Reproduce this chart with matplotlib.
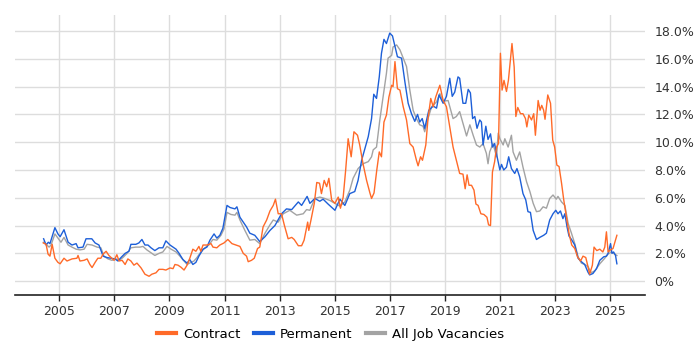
from matplotlib import pyplot as plt
from matplotlib.lines import Line2D

# Contract (decimal year, % of vacancies)
contract_x = [2004.42, 2004.52, 2004.59, 2004.66, 2004.74, 2004.84, 2004.95, 2005.03, 2005.17, 2005.28,
              2005.46, 2005.64, 2005.68, 2005.75, 2005.90, 2006.01, 2006.11, 2006.19, 2006.30, 2006.40,
              2006.51, 2006.59, 2006.70, 2006.80, 2006.91, 2006.99, 2007.09, 2007.17, 2007.28, 2007.39,
              2007.49, 2007.60, 2007.71, 2007.82, 2007.97, 2008.11, 2008.26, 2008.36, 2008.51, 2008.62,
              2008.76, 2008.87, 2009.02, 2009.13, 2009.20, 2009.31, 2009.42, 2009.53, 2009.64, 2009.74,
              2009.85, 2009.96, 2010.07, 2010.14, 2010.22, 2010.36, 2010.51, 2010.58, 2010.72, 2010.83,
              2010.98, 2011.12, 2011.27, 2011.41, 2011.56, 2011.68, 2011.80, 2011.86, 2011.98, 2012.08,
              2012.20, 2012.28, 2012.40, 2012.53, 2012.65, 2012.77, 2012.85, 2012.95, 2013.07, 2013.17,
              2013.31, 2013.44, 2013.53, 2013.68, 2013.80, 2013.89, 2014.02, 2014.06, 2014.14, 2014.26,
              2014.35, 2014.45, 2014.52, 2014.62, 2014.71, 2014.79, 2014.89, 2015.01, 2015.13, 2015.21,
              2015.31, 2015.40, 2015.49, 2015.60, 2015.70, 2015.83, 2015.91, 2016.03, 2016.16, 2016.28,
              2016.34, 2016.43, 2016.53, 2016.62, 2016.70, 2016.79, 2016.88, 2016.97, 2017.07, 2017.12,
              2017.19, 2017.28, 2017.37, 2017.49, 2017.61, 2017.73, 2017.85, 2017.97, 2018.03, 2018.12,
              2018.19, 2018.31, 2018.39, 2018.49, 2018.58, 2018.67, 2018.82, 2018.94, 2019.06, 2019.18,
              2019.30, 2019.42, 2019.54, 2019.66, 2019.74, 2019.81, 2019.88, 2019.97, 2020.06, 2020.13,
              2020.21, 2020.31, 2020.42, 2020.53, 2020.59, 2020.66, 2020.73, 2020.81, 2020.88, 2020.95,
              2021.02, 2021.08, 2021.15, 2021.24, 2021.31, 2021.44, 2021.52, 2021.58, 2021.65, 2021.75,
              2021.84, 2021.93, 2021.98, 2022.05, 2022.15, 2022.23, 2022.29, 2022.39, 2022.46, 2022.52,
              2022.59, 2022.64, 2022.74, 2022.84, 2022.92, 2022.99, 2023.07, 2023.15, 2023.24, 2023.32,
              2023.42, 2023.51, 2023.61, 2023.72, 2023.82, 2023.93, 2024.02, 2024.12, 2024.20, 2024.26,
              2024.36, 2024.42, 2024.52, 2024.63, 2024.74, 2024.81, 2024.87, 2024.93, 2025.02, 2025.11,
              2025.20, 2025.25]
contract_y = [2.75, 2.65, 1.95, 1.8, 2.65, 1.65, 1.35, 1.25, 1.65, 1.45,
              1.6, 1.65, 1.85, 1.45, 1.5, 1.6, 1.2, 0.98, 1.35, 1.65,
              1.65, 1.95, 2.15, 1.85, 1.65, 1.5, 1.9, 1.45, 1.5, 1.2,
              1.6, 1.45, 1.15, 1.3, 0.95, 0.5, 0.35, 0.5, 0.6, 0.85,
              0.85, 0.8, 0.95, 0.9, 1.2, 1.15, 1.0, 0.8, 1.15, 1.65,
              2.3, 2.15, 2.5, 2.15, 2.6, 2.6, 2.7, 2.45, 2.4, 2.6,
              2.75, 3.0, 2.7, 2.6, 2.5, 2.0, 1.8, 1.4, 1.5, 1.65,
              2.35, 2.45, 3.9, 4.4, 5.05, 5.45, 5.9, 4.85, 4.85, 4.05,
              3.05, 3.15, 3.0, 2.55, 2.55, 2.95, 4.25, 3.65, 4.4, 5.6,
              7.1, 7.05, 6.3, 7.25, 6.8, 7.4, 5.85, 5.6, 6.05, 5.25,
              6.05, 8.0, 10.25, 8.95, 10.75, 10.5, 9.8, 8.45, 7.25, 6.35,
              5.95, 6.35, 8.0, 9.3, 8.95, 11.45, 11.95, 13.25, 14.1, 14.0,
              15.8, 13.85, 13.75, 12.55, 11.6, 9.9, 9.65, 8.7, 8.3, 8.95,
              8.7, 9.8, 11.7, 13.15, 12.55, 13.25, 14.1, 13.0, 12.55, 11.1,
              9.65, 8.7, 7.75, 7.7, 6.65, 7.65, 6.9, 6.9, 6.55, 5.55,
              5.45, 4.85, 4.8, 4.6, 4.05, 4.0, 7.85, 8.6, 9.65, 9.9,
              16.4, 13.75, 14.45, 13.65, 14.45, 17.1, 15.4, 11.85, 12.5, 12.05,
              12.05, 11.7, 11.1, 11.95, 11.6, 12.05, 10.5, 13.0, 12.3, 12.65,
              12.3, 11.65, 13.4, 12.8, 10.15, 9.65, 8.35, 8.25, 7.05, 5.85,
              4.6, 3.45, 2.6, 2.35, 1.75, 1.45, 1.8, 1.7, 1.05, 0.5,
              1.15, 2.45, 2.2, 2.3, 2.1, 2.45, 3.55, 2.1, 2.25, 2.35,
              2.95, 3.3]

# Permanent
perm_x = [2004.43, 2004.52, 2004.60, 2004.66, 2004.84, 2004.95, 2005.03, 2005.17, 2005.32, 2005.46,
          2005.61, 2005.68, 2005.86, 2005.97, 2006.18, 2006.30, 2006.44, 2006.59, 2006.73, 2006.88,
          2007.02, 2007.13, 2007.24, 2007.39, 2007.53, 2007.60, 2007.78, 2007.89, 2008.00, 2008.11,
          2008.22, 2008.33, 2008.47, 2008.62, 2008.76, 2008.87, 2009.02, 2009.24, 2009.35, 2009.49,
          2009.64, 2009.74, 2009.85, 2009.96, 2010.07, 2010.22, 2010.36, 2010.47, 2010.62, 2010.72,
          2010.83, 2010.94, 2011.09, 2011.20, 2011.38, 2011.45, 2011.56, 2011.80, 2011.92, 2012.10,
          2012.28, 2012.47, 2012.65, 2012.83, 2013.07, 2013.25, 2013.44, 2013.68, 2013.80, 2014.00,
          2014.10, 2014.28, 2014.46, 2014.58, 2014.76, 2015.01, 2015.19, 2015.37, 2015.55, 2015.73,
          2015.85, 2015.98, 2016.10, 2016.22, 2016.34, 2016.42, 2016.52, 2016.62, 2016.70, 2016.79,
          2016.88, 2017.00, 2017.10, 2017.19, 2017.28, 2017.43, 2017.55, 2017.67, 2017.79, 2017.91,
          2018.01, 2018.09, 2018.18, 2018.27, 2018.42, 2018.58, 2018.70, 2018.79, 2018.94, 2019.06,
          2019.18, 2019.27, 2019.36, 2019.48, 2019.54, 2019.66, 2019.76, 2019.85, 2019.93, 2020.01,
          2020.09, 2020.17, 2020.27, 2020.33, 2020.39, 2020.49, 2020.57, 2020.66, 2020.73, 2020.81,
          2020.90, 2021.00, 2021.06, 2021.14, 2021.24, 2021.32, 2021.42, 2021.54, 2021.62, 2021.72,
          2021.84, 2021.94, 2022.02, 2022.11, 2022.21, 2022.33, 2022.45, 2022.59, 2022.69, 2022.81,
          2022.93, 2023.03, 2023.11, 2023.20, 2023.29, 2023.36, 2023.44, 2023.51, 2023.60, 2023.72,
          2023.84, 2023.96, 2024.08, 2024.20, 2024.26, 2024.38, 2024.51, 2024.63, 2024.77, 2024.87,
          2024.93, 2025.02, 2025.07, 2025.13, 2025.20, 2025.25]
perm_y = [3.05, 2.6, 2.8, 2.7, 3.85, 3.4, 3.2, 3.7, 2.8, 2.6,
          2.7, 2.4, 2.45, 3.05, 3.05, 2.75, 2.6, 1.8, 1.7, 1.65,
          1.6, 1.45, 1.7, 2.0, 2.15, 2.65, 2.65, 2.75, 3.0, 2.6,
          2.6, 2.4, 2.2, 2.4, 2.4, 2.9, 2.6, 2.3, 2.0, 1.55,
          1.3, 1.55, 1.2, 1.35, 1.8, 2.3, 2.45, 2.95, 3.4, 3.1,
          3.3, 3.8, 5.45, 5.3, 5.2, 5.35, 4.6, 3.9, 3.45, 3.3,
          2.85, 3.2, 3.65, 4.0, 4.85, 5.2, 5.15, 5.7, 5.45, 6.1,
          5.6, 5.95, 5.75, 5.9, 5.55, 5.1, 5.9, 5.45, 6.3, 6.45,
          7.25, 8.7, 9.55, 10.4, 11.7, 13.45, 13.15, 14.7, 16.4, 17.4,
          17.1, 17.85, 17.65, 16.9, 16.15, 16.05, 14.35, 12.8, 12.05, 11.5,
          12.0, 11.45, 11.7, 11.0, 12.3, 12.6, 12.45, 13.4, 12.8, 13.3,
          14.6, 13.3, 13.6, 14.7, 14.6, 12.8, 12.8, 13.8, 13.55, 11.7,
          11.85, 11.0, 11.6, 11.45, 9.8, 11.15, 10.2, 10.6, 9.65, 9.9,
          8.95, 8.0, 8.4, 8.0, 8.2, 8.95, 8.1, 7.75, 8.1, 7.5,
          6.3, 5.85, 5.0, 4.95, 3.65, 3.0, 3.15, 3.3, 3.45, 4.4,
          4.85, 5.1, 4.85, 5.05, 4.5, 4.85, 3.9, 3.25, 3.0, 2.6,
          1.65, 1.4, 1.2, 0.65, 0.45, 0.55, 0.9, 1.5, 1.75, 1.8,
          2.0, 2.7, 2.0, 2.1, 1.85, 1.25]

# All job vacancies
all_x = [2004.42, 2004.52, 2004.63, 2004.70, 2004.84, 2004.95, 2005.06, 2005.17, 2005.32, 2005.46,
         2005.61, 2005.75, 2005.90, 2006.01, 2006.19, 2006.37, 2006.51, 2006.62, 2006.77, 2006.91,
         2007.06, 2007.17, 2007.31, 2007.46, 2007.60, 2007.78, 2007.93, 2008.04, 2008.18, 2008.36,
         2008.47, 2008.62, 2008.76, 2008.91, 2009.06, 2009.24, 2009.38, 2009.53, 2009.64, 2009.78,
         2009.89, 2010.00, 2010.14, 2010.29, 2010.43, 2010.58, 2010.72, 2010.87, 2010.98, 2011.09,
         2011.23, 2011.38, 2011.45, 2011.56, 2011.74, 2011.92, 2012.10, 2012.28, 2012.47, 2012.65,
         2012.77, 2012.95, 2013.13, 2013.37, 2013.62, 2013.86, 2013.98, 2014.10, 2014.28, 2014.46,
         2014.64, 2014.83, 2015.01, 2015.19, 2015.37, 2015.55, 2015.67, 2015.85, 2016.03, 2016.22,
         2016.34, 2016.40, 2016.52, 2016.58, 2016.64, 2016.76, 2016.88, 2016.94, 2017.07, 2017.12,
         2017.25, 2017.37, 2017.49, 2017.61, 2017.73, 2017.85, 2017.97, 2018.09, 2018.21, 2018.27,
         2018.39, 2018.52, 2018.70, 2018.82, 2018.94, 2019.12, 2019.30, 2019.42, 2019.54, 2019.66,
         2019.79, 2019.91, 2020.03, 2020.15, 2020.27, 2020.39, 2020.51, 2020.57, 2020.63, 2020.75,
         2020.88, 2020.94, 2021.00, 2021.12, 2021.18, 2021.30, 2021.42, 2021.48, 2021.60, 2021.72,
         2021.84, 2021.97, 2022.09, 2022.21, 2022.33, 2022.45, 2022.57, 2022.69, 2022.81, 2022.93,
         2023.05, 2023.11, 2023.24, 2023.36, 2023.48, 2023.60, 2023.72, 2023.84, 2023.96, 2024.08,
         2024.20, 2024.32, 2024.45, 2024.63, 2024.81, 2024.93, 2025.05, 2025.17, 2025.25]
all_y = [2.8, 2.65, 2.45, 2.6, 3.4, 3.1, 2.8, 3.15, 2.6, 2.45,
         2.3, 2.25, 2.3, 2.65, 2.6, 2.45, 2.4, 1.8, 1.6, 1.5,
         1.6, 1.5, 1.7, 2.0, 2.4, 2.45, 2.45, 2.5, 2.25, 2.0,
         1.85, 2.0, 2.1, 2.5, 2.3, 2.1, 1.8, 1.45, 1.2, 1.35,
         1.45, 1.7, 2.1, 2.4, 2.6, 3.0, 2.95, 3.3, 3.75, 4.95,
         4.8, 4.75, 4.95, 4.4, 3.65, 2.95, 3.0, 2.7, 3.45, 4.05,
         4.4, 4.25, 4.85, 5.1, 4.75, 4.85, 5.15, 5.1, 5.95, 6.05,
         5.95, 5.8, 5.6, 5.4, 5.7, 6.55, 7.4, 8.1, 8.45, 8.6,
         8.95, 9.45, 9.65, 10.65, 11.6, 13.25, 14.95, 16.05, 16.25, 16.85,
         17.0, 16.65, 16.05, 15.45, 13.75, 12.3, 11.7, 11.25, 11.15, 10.75,
         11.7, 12.55, 12.9, 13.5, 12.95, 13.0, 11.7, 11.85, 12.2, 11.35,
         10.45, 11.25, 10.5, 9.8, 9.65, 9.9, 9.2, 8.45, 9.3, 9.9,
         8.95, 10.65, 10.25, 9.8, 10.25, 9.65, 10.5, 9.3, 8.7, 9.3,
         8.2, 7.15, 6.45, 5.6, 5.0, 5.05, 5.35, 5.25, 5.95, 6.2,
         5.9, 6.1, 5.7, 5.45, 4.15, 3.45, 2.7, 1.75, 1.3, 1.2,
         1.05, 0.6, 0.75, 1.25, 1.65, 1.95, 2.1, 1.95, 1.85]

year_ticks = [2005, 2007, 2009, 2011, 2013, 2015, 2017, 2019, 2021, 2023, 2025]
pct_ticks = [0, 2, 4, 6, 8, 10, 12, 14, 16, 18]

c_contract = '#ff6a28'
c_perm = '#1d5fd8'
c_all = '#a3a3a3'

fig = plt.figure(figsize=(7, 3.5), dpi=100)
ax = fig.add_axes([0.0214, 0.157, 0.8996, 0.8])

ax.plot(all_x, all_y, color=c_all, lw=1.0)
ax.plot(perm_x, perm_y, color=c_perm, lw=1.0)
ax.plot(contract_x, contract_y, color=c_contract, lw=1.0)

ax.set_xlim(2003.39, 2026.26)
ax.set_ylim(-1.0, 19.15)

ax.set_xticks(year_ticks)
ax.set_xticklabels([str(y) for y in year_ticks])
ax.set_yticks(pct_ticks)
ax.set_yticklabels(['0%' if v == 0 else f'{v:.1f}%' for v in pct_ticks])
ax.yaxis.tick_right()
ax.tick_params(axis='y', length=0, pad=7, labelsize=9, labelcolor='#333333')
ax.tick_params(axis='x', length=4, width=1, color='#222222', pad=3, labelsize=9, labelcolor='#333333')

ax.grid(True, color='#dddddd', lw=1)
ax.set_axisbelow(True)
for s in ['top', 'left', 'right']:
    ax.spines[s].set_visible(False)
ax.spines['bottom'].set_color('#222222')
ax.spines['bottom'].set_linewidth(1.2)

handles = [Line2D([], [], color=c_contract, lw=3),
           Line2D([], [], color=c_perm, lw=3),
           Line2D([], [], color=c_all, lw=3)]
fig.legend(handles, ['Contract', 'Permanent', 'All Job Vacancies'], loc='center',
           bbox_to_anchor=(0.472, 0.045), ncol=3, frameon=False, fontsize=9.5,
           handlelength=1.5, handletextpad=0.5, columnspacing=1.0)

plt.savefig('out.png')
